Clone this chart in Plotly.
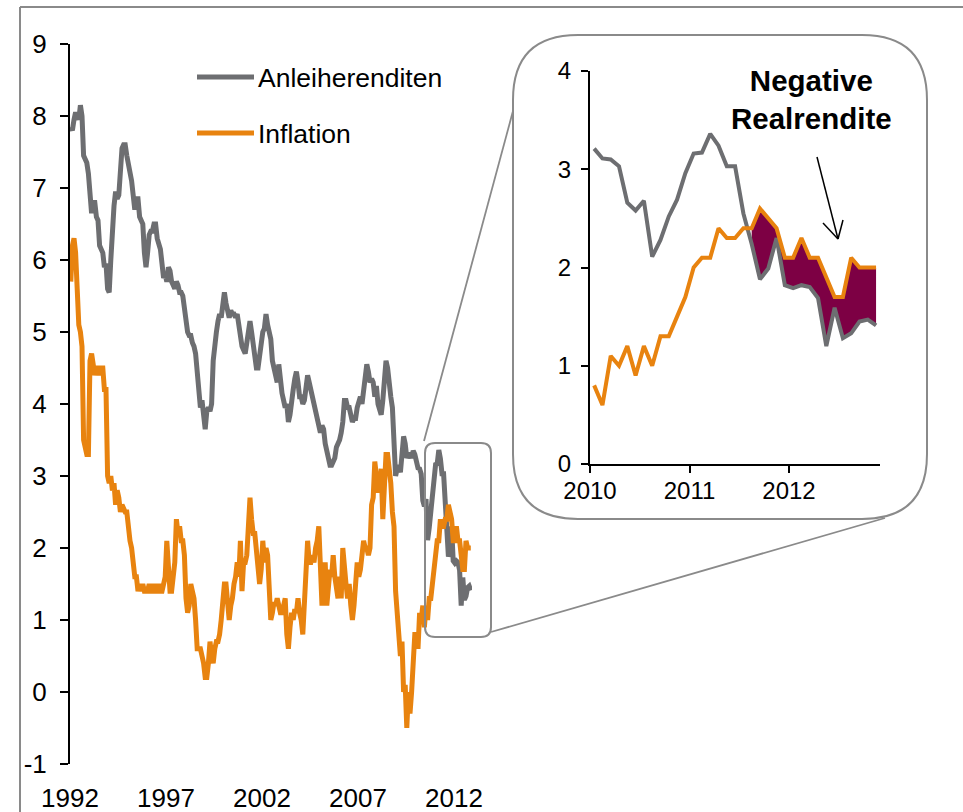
import numpy as np
import plotly.graph_objects as go

# page is 963x812; the body margin is removed in a post script so the figure fills the page
PAGE_W, PAGE_H = 963, 812
OFF = 0
W, H = PAGE_W - 2 * OFF, PAGE_H - 2 * OFF

# ---------------- data (monthly, Jan 1992 - Nov 2012) ----------------
start_year = 1992

yields = [
    # 1992
    7.85, 7.8, 7.95, 8.05, 8.0, 7.95, 8.15, 8.0, 7.45, 7.4, 7.35, 7.2,
    # 1993
    6.9, 6.65, 6.8, 6.8, 6.6, 6.55, 6.2, 6.15, 6.1, 5.9, 5.95, 5.6,
    # 1994
    5.55, 6.0, 6.45, 6.75, 6.95, 6.85, 6.9, 7.2, 7.55, 7.6, 7.6, 7.45,
    # 1995
    7.35, 7.25, 7.1, 6.9, 6.7, 6.85, 6.85, 6.6, 6.55, 6.5, 6.1, 5.9,
    # 1996
    6.1, 6.35, 6.4, 6.4, 6.5, 6.5, 6.3, 6.2, 6.15, 5.95, 5.75, 5.8,
    # 1997
    5.7, 5.9, 5.85, 5.7, 5.65, 5.6, 5.7, 5.65, 5.55, 5.55, 5.5, 5.3,
    # 1998
    5.25, 5.0, 4.95, 4.95, 4.85, 4.8, 4.7, 4.4, 4.1, 3.95, 4.05, 3.9,
    # 1999
    3.65, 3.9, 3.95, 3.9, 4.0, 4.6, 4.85, 5.0, 5.15, 5.25, 5.2, 5.4,
    # 2000
    5.55, 5.4, 5.25, 5.2, 5.3, 5.25, 5.25, 5.2, 5.25, 5.1, 4.9, 4.8,
    # 2001
    4.75, 4.7, 4.85, 5.0, 5.15, 5.0, 4.85, 4.75, 4.5, 4.5, 4.65, 4.9,
    # 2002
    5.0, 5.05, 5.25, 5.1, 5.0, 4.9, 4.6, 4.5, 4.4, 4.3, 4.55, 4.3,
    # 2003
    4.15, 4.05, 3.95, 4.0, 3.75, 3.85, 4.1, 4.2, 4.35, 4.45, 4.3, 4.1,
    # 2004
    4.1, 4.0, 4.05, 4.2, 4.4, 4.3, 4.2, 4.1, 4.05, 3.95, 3.85, 3.7,
    # 2005
    3.6, 3.7, 3.65, 3.45, 3.35, 3.2, 3.15, 3.15, 3.2, 3.25, 3.4, 3.45,
    # 2006
    3.5, 3.6, 3.75, 4.05, 4.05, 3.95, 3.95, 3.85, 3.75, 3.8, 3.8, 3.95,
    # 2007
    4.05, 4.1, 4.0, 4.2, 4.4, 4.55, 4.45, 4.3, 4.35, 4.3, 4.1, 4.25,
    # 2008
    4.0, 3.9, 3.85, 4.05, 4.3, 4.6, 4.5, 4.2, 4.1, 3.95, 3.6, 3.0,
    # 2009
    3.1, 3.15, 3.05, 3.3, 3.55, 3.45, 3.25, 3.3, 3.3, 3.25, 3.35, 3.3,
    # 2010
    3.21, 3.11, 3.10, 3.03, 2.66, 2.58, 2.68, 2.11, 2.28, 2.52, 2.69, 2.96,
    # 2011
    3.16, 3.17, 3.36, 3.24, 3.03, 3.03, 2.55, 2.24, 1.88, 1.99, 2.30, 1.82,
    # 2012
    1.79, 1.82, 1.80, 1.69, 1.20, 1.59, 1.28, 1.33, 1.45, 1.47, 1.41,
]

inflation = [
    # 1992
    5.7, 6.2, 6.3, 6.1, 5.6, 5.1, 5.0, 4.8, 3.5, 3.4, 3.3, 3.3,
    # 1993
    4.6, 4.7, 4.5, 4.4, 4.5, 4.5, 4.4, 4.5, 4.5, 4.2, 4.2, 3.0,
    # 1994
    2.9, 3.0, 2.8, 2.9, 2.6, 2.8, 2.7, 2.5, 2.6, 2.55, 2.5, 2.5,
    # 1995
    2.2, 2.1, 2.0, 1.8, 1.6, 1.6, 1.4, 1.5, 1.4, 1.5, 1.4, 1.4,
    # 1996
    1.4, 1.5, 1.4, 1.4, 1.5, 1.4, 1.4, 1.5, 1.4, 1.4, 1.5, 1.6,
    # 1997
    2.1, 1.7, 1.4, 1.4, 1.6, 1.8, 2.4, 2.2, 2.3, 2.1, 2.1, 1.9,
    # 1998
    1.3, 1.1, 1.2, 1.5, 1.4, 1.3, 1.0, 0.6, 0.6, 0.6, 0.5, 0.4,
    # 1999
    0.2, 0.2, 0.4, 0.7, 0.5, 0.4, 0.6, 0.7, 0.7, 0.8, 1.0, 1.4,
    # 2000
    1.5, 1.5, 1.3, 1.0, 1.2, 1.3, 1.5, 1.6, 1.8, 1.6, 2.1, 1.4,
    # 2001
    1.8, 1.8, 1.9, 2.2, 2.7, 2.4, 2.2, 2.2, 1.9, 1.6, 1.5, 1.7,
    # 2002
    2.1, 1.8, 2.0, 1.9, 1.2, 1.0, 1.1, 1.25, 1.2, 1.3, 1.2, 1.1,
    # 2003
    1.1, 1.2, 1.3, 0.8, 0.6, 0.9, 1.1, 1.0, 1.15, 1.1, 1.3, 1.1,
    # 2004
    1.0, 0.8, 1.2, 1.7, 2.1, 1.8, 1.8, 1.9, 1.8, 2.0, 2.1, 2.3,
    # 2005
    1.7, 1.2, 1.6, 1.8, 1.2, 1.6, 1.7, 1.6, 1.9, 1.6, 1.4, 1.3,
    # 2006
    1.6, 1.3, 2.0, 1.6, 1.5, 1.3, 1.5, 1.2, 1.0, 1.2, 1.5, 1.8,
    # 2007
    1.6, 1.7, 1.9, 2.1, 2.0, 2.0, 1.9, 2.0, 2.6, 2.7, 3.2, 2.9,
    # 2008
    2.8, 2.8, 3.1, 2.4, 3.0, 3.3, 3.3, 3.1, 2.9, 2.5, 2.3, 1.4,
    # 2009
    1.0, 0.9, 0.5, 0.7, 0.0, 0.1, -0.5, 0.0, -0.3, 0.0, 0.4, 0.8,
    # 2010
    0.8, 0.6, 1.1, 1.0, 1.2, 0.9, 1.2, 1.0, 1.3, 1.3, 1.5, 1.7,
    # 2011
    2.0, 2.1, 2.1, 2.4, 2.3, 2.3, 2.4, 2.4, 2.6, 2.5, 2.4, 2.1,
    # 2012
    2.1, 2.3, 2.1, 2.1, 1.9, 1.7, 1.7, 2.1, 2.0, 2.0, 2.0,
]

series_names = ["Anleiherenditen", "Inflation"]
main_tickvals = [1992, 1997, 2002, 2007, 2012]
main_yticks = [-1, 0, 1, 2, 3, 4, 5, 6, 7, 8, 9]
main_yticktext = ["-1", "0", "1", "2", "3", "4", "5", "6", "7", "8", "9"]
inset_start = 2010
inset_tickvals = [2010, 2011, 2012]
inset_yticks = [0, 1, 2, 3, 4]
annotation_text = "<b>Negative<br>Realrendite</b>"

# ---------------- styles ----------------
GRAY = "#6D6E71"
ORANGE = "#E8830F"
MAROON = "#7D0044"
FRAME = "#8A8A8A"
FONT = "Liberation Sans, Arial, sans-serif"


def px(v):
    """page pixel x -> paper fraction"""
    return (v - OFF) / W


def py(v):
    """page pixel y (from top) -> paper fraction"""
    return 1 - (v - OFF) / H


def rounded_rect(x0, y0, x1, y1, r):
    pts = [
        ("M", (x0 + r, y0)), ("L", (x1 - r, y0)), ("Q", (x1, y0), (x1, y0 + r)),
        ("L", (x1, y1 - r)), ("Q", (x1, y1), (x1 - r, y1)),
        ("L", (x0 + r, y1)), ("Q", (x0, y1), (x0, y1 - r)),
        ("L", (x0, y0 + r)), ("Q", (x0, y0), (x0 + r, y0)),
    ]
    s = ""
    for p in pts:
        coords = " ".join(f"{px(a):.5f},{py(b):.5f}" for a, b in p[1:])
        s += f"{p[0]} {coords} "
    return s + "Z"


yv = np.array(yields)
iv = np.array(inflation)
months = np.arange(len(yv))
xv = start_year + (months + 0.5) / 12.0

fig = go.Figure()

# main chart
fig.add_trace(go.Scatter(x=xv, y=yv, mode="lines", line=dict(color=GRAY, width=5),
                         xaxis="x", yaxis="y", name=series_names[0], showlegend=False))
fig.add_trace(go.Scatter(x=xv, y=iv, mode="lines", line=dict(color=ORANGE, width=5),
                         xaxis="x", yaxis="y", name=series_names[1], showlegend=False))

# inset
m = xv >= inset_start
xi, yi, ii = xv[m], yv[m], iv[m]
neg = ii > yi
idx = np.where(neg)[0]
segments = []
if len(idx):
    s = idx[0]
    prev = idx[0]
    for k in idx[1:]:
        if k != prev + 1:
            segments.append((s, prev))
            s = k
        prev = k
    segments.append((s, prev))
for a, b in segments:
    fig.add_trace(go.Scatter(x=xi[a:b + 1], y=yi[a:b + 1], mode="lines", line=dict(width=0),
                             xaxis="x2", yaxis="y2", showlegend=False, hoverinfo="skip"))
    fig.add_trace(go.Scatter(x=xi[a:b + 1], y=ii[a:b + 1], mode="lines", line=dict(width=0),
                             fill="tonexty", fillcolor=MAROON,
                             xaxis="x2", yaxis="y2", showlegend=False, hoverinfo="skip"))
fig.add_trace(go.Scatter(x=xi, y=yi, mode="lines", line=dict(color=GRAY, width=4),
                         xaxis="x2", yaxis="y2", showlegend=False))
fig.add_trace(go.Scatter(x=xi, y=ii, mode="lines", line=dict(color=ORANGE, width=4),
                         xaxis="x2", yaxis="y2", showlegend=False))

main_xrange = [1992, 1992 + (472 - 70) / 19.2]
inset_xrange = [2010, 2010 + (880 - 590) / 99.5]

axis_common = dict(showgrid=False, zeroline=False, linecolor="black", tickcolor="black",
                   automargin=False)

fig.update_layout(
    width=W, height=H, autosize=False,
    margin=dict(l=0, r=0, t=0, b=0, pad=0),
    paper_bgcolor="white", plot_bgcolor="rgba(0,0,0,0)",
    font=dict(family=FONT, size=26, color="black"),
    showlegend=False,
    xaxis=dict(domain=[px(70), px(472)], range=main_xrange, anchor="y",
               tickvals=main_tickvals, ticktext=[str(t) for t in main_tickvals],
               ticks="", showline=False, ticklabelstandoff=16,
               tickfont=dict(size=26), **axis_common),
    xaxis3=dict(overlaying="x", anchor="free", position=py(692), range=main_xrange,
                tickvals=main_tickvals, ticks="outside", ticklen=8, tickwidth=2,
                showline=True, linewidth=2, showticklabels=False, **axis_common),
    yaxis=dict(domain=[py(764), py(44)], range=[-1, 9], anchor="x",
               tickvals=main_yticks, ticktext=main_yticktext, ticks="outside", ticklen=8,
               tickwidth=2, showline=True, linewidth=2, ticklabelstandoff=8,
               tickfont=dict(size=26), **axis_common),
    xaxis2=dict(domain=[px(590), px(880)], range=inset_xrange, anchor="y2",
                tickvals=inset_tickvals, ticks="outside", ticklen=7, tickwidth=2,
                showline=True, linewidth=2, ticklabelstandoff=-3,
                tickfont=dict(size=24), **axis_common),
    yaxis2=dict(domain=[py(464), py(71)], range=[0, 4], anchor="x2",
                tickvals=inset_yticks, ticks="outside", ticklen=7, tickwidth=2,
                showline=True, linewidth=2, ticklabelstandoff=5,
                tickfont=dict(size=24), **axis_common),
)

shapes = []
# outer frame
shapes.append(dict(type="line", xref="paper", yref="paper", x0=px(20), y0=py(7), x1=px(PAGE_W + 20),
                   y1=py(7), line=dict(color=FRAME, width=2)))
shapes.append(dict(type="line", xref="paper", yref="paper", x0=px(20), y0=py(7), x1=px(20),
                   y1=py(PAGE_H + 20), line=dict(color=FRAME, width=2)))
# inset border
shapes.append(dict(type="path", xref="paper", yref="paper", path=rounded_rect(513, 35, 927, 519, 65),
                   line=dict(color=FRAME, width=2), fillcolor="white", layer="below"))
# zoom box on main chart
shapes.append(dict(type="path", xref="paper", yref="paper", path=rounded_rect(425, 443, 491, 637, 10),
                   line=dict(color=FRAME, width=2), layer="above"))
# connector lines
shapes.append(dict(type="line", xref="paper", yref="paper", x0=px(424), y0=py(441), x1=px(513), y1=py(111),
                   line=dict(color=FRAME, width=1.8)))
shapes.append(dict(type="line", xref="paper", yref="paper", x0=px(491), y0=py(632), x1=px(885), y1=py(518),
                   line=dict(color=FRAME, width=1.8)))
# legend samples
for yy, col in [(77, GRAY), (133, ORANGE)]:
    shapes.append(dict(type="line", xref="paper", yref="paper", x0=px(197), y0=py(yy), x1=px(254), y1=py(yy),
                       line=dict(color=col, width=5)))
# thin open arrow pointing at the shaded area
arrow_tail, arrow_tip = (817, 157), (838, 239)
arrow_arms = [(823, 223), (843, 220)]
shapes.append(dict(type="line", xref="paper", yref="paper", x0=px(arrow_tail[0]), y0=py(arrow_tail[1]),
                   x1=px(arrow_tip[0]), y1=py(arrow_tip[1]), line=dict(color="black", width=1.5)))
for ax_, ay_ in arrow_arms:
    shapes.append(dict(type="line", xref="paper", yref="paper", x0=px(ax_), y0=py(ay_),
                       x1=px(arrow_tip[0]), y1=py(arrow_tip[1]), line=dict(color="black", width=1.5)))
fig.update_layout(shapes=shapes)

annotations = []
for yy, name in [(77, series_names[0]), (133, series_names[1])]:
    annotations.append(dict(x=px(256), y=py(yy + 1), xref="paper", yref="paper", text=name,
                            showarrow=False, xanchor="left", yanchor="middle",
                            font=dict(size=26.5, family=FONT, color="black")))
annotations.append(dict(x=px(811), y=py(100), xref="paper", yref="paper", text=annotation_text,
                        showarrow=False, xanchor="center", yanchor="middle",
                        font=dict(size=29.5, family=FONT, color="black")))
fig.update_layout(annotations=annotations)

fig.write_html("out.html", config={"displayModeBar": False},
               post_script="document.body.style.margin='0px';")
